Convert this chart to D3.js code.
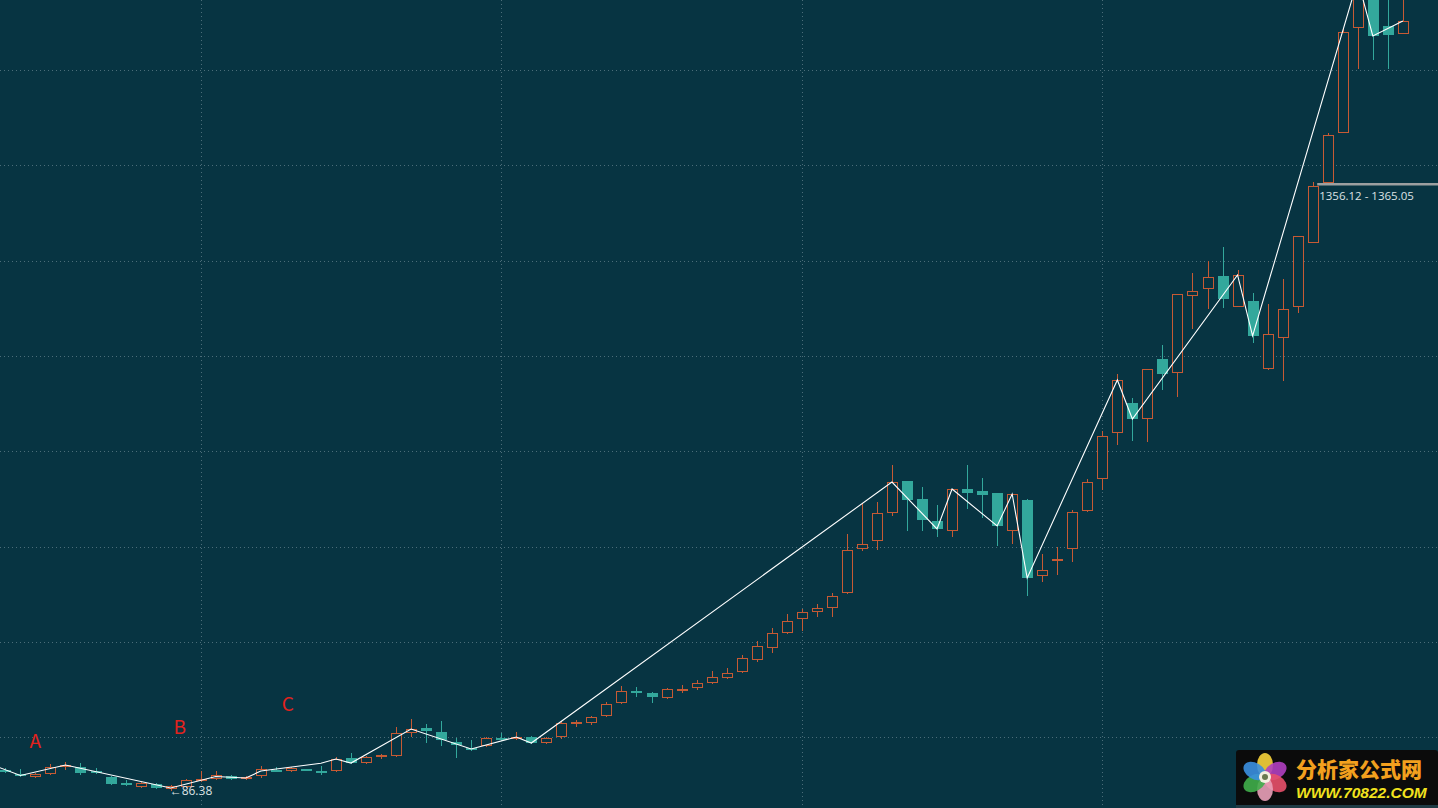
<!DOCTYPE html>
<html><head><meta charset="utf-8">
<script src="https://cdn.jsdelivr.net/npm/d3@7"></script>
<style>
html,body{margin:0;padding:0;background:#073442;overflow:hidden;}
svg{display:block;}
</style></head>
<body>
<svg id="chart" width="1438" height="808"></svg>
<script>
// ---- data ----
const opens  = [131.3,122.9,116.6,122.9,137.6,137.6,130.2,116.6,105.1,95.7,102.0,91.5,95.7,108.3,112.5,118.7,112.5,118.7,132.4,129.2,133.4,130.2,129.2,156.5,146.0,158.6,160.7,209.0,219.5,211.1,190.1,177.5,181.7,199.5,196.4,200.6,188.0,200.6,229.9,229.9,244.6,271.9,296.1,292.9,282.4,300.2,303.4,313.9,324.4,337.0,362.2,387.3,418.8,448.2,462.8,471.2,502.6,595.0,611.8,670.5,737.7,699.9,653.7,632.8,720.9,716.7,712.5,632.8,697.8,538.4,573.0,595.0,674.7,741.9,838.3,901.3,867.7,993.6,964.3,1125.8,1140.5,1167.9,1102.7,1115.3,972.7,1037.7,1102.7,1237.4,1362.9,1467.8,1688.1,1778.3,1692.3,1675.5];
const highs  = [135.5,133.4,125.0,143.9,148.1,146.0,135.5,118.7,110.4,106.2,104.1,99.9,112.5,129.2,129.2,120.8,118.7,139.7,137.6,137.6,133.4,139.7,158.6,167.0,160.7,164.9,221.6,238.3,227.8,234.1,198.5,194.3,200.6,209.0,211.1,202.7,200.6,234.1,236.2,244.6,274.0,307.6,305.5,295.0,303.4,309.7,320.2,339.1,345.4,372.6,402.0,429.3,458.6,469.1,479.6,502.6,626.5,691.5,693.6,771.3,737.7,725.1,687.3,720.9,771.3,744.0,712.5,710.4,699.9,584.5,599.2,676.8,741.9,842.6,962.2,911.8,972.7,1023.0,1130.0,1174.2,1199.4,1229.0,1180.5,1132.1,1109.0,1161.5,1251.7,1365.05,1467.8,1688.1,1809.7,1788.8,1767.8,1767.8];
const lows   = [125.0,116.6,114.6,120.8,131.3,120.8,122.9,99.9,97.8,93.6,91.5,86.38,93.6,106.2,110.4,110.4,110.4,114.6,127.1,127.1,131.3,120.8,127.1,143.9,143.9,154.4,158.6,200.6,188.0,181.7,156.5,171.2,179.6,192.2,194.3,185.9,185.9,196.4,221.6,225.8,242.5,269.8,284.5,271.9,280.3,292.9,299.2,311.8,322.3,334.9,358.0,376.8,416.7,423.0,452.4,452.4,500.5,590.8,592.9,664.2,632.8,632.8,620.2,620.2,678.9,660.0,601.3,605.5,496.4,525.8,540.5,567.8,672.6,718.8,813.3,821.6,819.5,928.6,913.9,1056.6,1098.5,1100.6,1102.7,1027.2,970.6,947.5,1090.1,1237.4,1362.9,1467.8,1602.0,1620.9,1602.0,1675.5];
const closes = [129.2,119.8,122.9,137.6,141.8,125.0,128.1,102.0,103.0,104.1,93.6,97.8,110.4,112.5,120.8,112.5,116.6,133.4,130.2,135.5,131.3,128.1,154.4,146.0,158.6,162.8,209.0,217.4,213.2,194.3,183.8,175.4,198.5,197.4,200.6,188.0,198.5,229.9,232.0,242.5,269.8,297.1,294.0,284.5,301.3,302.3,313.9,326.5,334.9,366.3,391.5,418.8,443.9,462.8,471.2,496.4,592.9,605.5,670.5,735.6,697.8,655.8,637.0,720.9,712.5,708.3,643.3,710.4,534.2,551.0,575.1,672.6,735.6,832.1,949.6,867.7,972.7,962.2,1130.0,1136.3,1165.8,1119.5,1170.0,1041.9,1046.1,1098.5,1251.7,1356.12,1463.5,1679.7,1788.8,1671.3,1673.4,1702.7];

// zigzag turning points (bar index, price)
const zigIdx   = [-1,1,4,11,14,16,17,21,22,23,27,31,34,35,59,62,63,66,67,68,74,75,82,83,90,91,93];
const zigPrice = [143.9,119.8,141.8,93.6,117.6,114.6,129.2,145.4,154.4,146.0,217.4,175.4,200.6,188.0,735.6,637.0,720.9,643.3,710.4,534.2,949.6,867.7,1170.0,1041.9,1788.8,1671.3,1702.7];

const gridPrices = [200,400,600,800,1000,1200,1400,1600];
const gridBars   = [13,33,53,73];

const waveLabels = ["A","B","C"];
const waveIdx    = [2,11.6,18.8];
const wavePrice  = [177.6,206.9,255.2];

const lowMark   = {idx:11, price:86.38, text:"86.38"};
const rangeMark = {idx:87.3, lo:1356.12, hi:1365.05};

// ---- chart ----
const W = 1438, H = 808;
const BG = "#073442";
const svg = d3.select("#chart");
const x = d3.scaleLinear().domain([0, 93]).range([5.35, 5.35 + 93*15.027]);
const y = d3.scaleLinear().domain([51.67, 1746.8]).range([H, 0]);

const UP = "#c65a34", DOWN = "#33a89c", GRID = "#4b6d79";

svg.append("rect").attr("width", W).attr("height", H).attr("fill", BG);

// grid
const g = svg.append("g").attr("shape-rendering", "crispEdges");
g.selectAll("line.h").data(gridPrices).join("line")
  .attr("x1", 0).attr("x2", W)
  .attr("y1", d => Math.round(y(d)) + 0.5).attr("y2", d => Math.round(y(d)) + 0.5)
  .attr("stroke", GRID).attr("stroke-width", 1).attr("stroke-dasharray", "1,3");
g.selectAll("line.v").data(gridBars).join("line")
  .attr("y1", 0).attr("y2", H)
  .attr("x1", d => Math.round(x(d)) + 0.5).attr("x2", d => Math.round(x(d)) + 0.5)
  .attr("stroke", GRID).attr("stroke-width", 1).attr("stroke-dasharray", "1,3");

// candles
const bars = opens.map((o, i) => ({i, o, h: highs[i], l: lows[i], c: closes[i]}));
const cg = svg.append("g").attr("shape-rendering", "crispEdges");
const cand = cg.selectAll("g").data(bars).join("g");
cand.each(function(d) {
  const s = d3.select(this);
  const cx = Math.round(x(d.i)) + 0.5;
  const up = d.c >= d.o;
  const col = up ? UP : DOWN;
  const top = Math.round(y(Math.max(d.o, d.c)));
  const bot = Math.round(y(Math.min(d.o, d.c)));
  const bh = Math.max(1, bot - top);
  s.append("line").attr("x1", cx).attr("x2", cx)
    .attr("y1", y(d.h)).attr("y2", top).attr("stroke", col);
  s.append("line").attr("x1", cx).attr("x2", cx)
    .attr("y1", bot).attr("y2", y(d.l)).attr("stroke", col);
  if (up) {
    if (bh <= 2) {
      s.append("rect").attr("x", cx - 5.5).attr("y", top).attr("width", 11).attr("height", Math.max(2, bh)).attr("fill", col);
    } else {
      s.append("rect").attr("x", cx - 5).attr("y", top + 0.5).attr("width", 10).attr("height", bh - 1)
        .attr("fill", BG).attr("stroke", col).attr("stroke-width", 1);
    }
  } else {
    s.append("rect").attr("x", cx - 5.5).attr("y", top).attr("width", 11).attr("height", Math.max(2, bh)).attr("fill", col);
  }
});

// zigzag
const zz = zigIdx.map((d, k) => [x(d), y(zigPrice[k])]);
svg.append("path").attr("d", d3.line()(zz))
  .attr("fill", "none").attr("stroke", "#ffffff").attr("stroke-width", 1.1);

// wave labels
svg.selectAll("text.wave").data(waveLabels).join("text")
  .attr("x", (d, k) => x(waveIdx[k])).attr("y", (d, k) => y(wavePrice[k]))
  .attr("text-anchor", "middle").attr("fill", "#e3221d")
  .attr("font-family", "'Noto Sans CJK SC','Noto Sans',sans-serif").attr("font-size", 19)
  .text(d => d);

// low marker
svg.append("text").attr("x", x(lowMark.idx) - 1).attr("y", y(lowMark.price) + 4)
  .attr("fill", "#dde2e4").attr("font-family", "'Open Sans','Noto Sans',sans-serif").attr("font-size", 12)
  .text("←" + lowMark.text);

// range marker
const ry = Math.round(y((rangeMark.lo + rangeMark.hi) / 2));
svg.append("rect").attr("x", x(rangeMark.idx)).attr("y", ry - 1).attr("width", W).attr("height", 2.5)
  .attr("fill", "#9c9fa0");
svg.append("text").attr("x", x(rangeMark.idx) + 2).attr("y", ry + 16)
  .attr("fill", "#dde2e4").attr("font-family", "'Open Sans','Noto Sans',sans-serif").attr("font-size", 11.5)
  .text(rangeMark.lo.toFixed(2) + " - " + rangeMark.hi.toFixed(2));

// watermark logo
const lg = svg.append("g").attr("transform", "translate(1236,750)");
lg.append("rect").attr("x", 0).attr("y", 0).attr("width", 202).attr("height", 58).attr("rx", 3).attr("fill", "#0b0b0b");
lg.append("rect").attr("x", 0).attr("y", 55).attr("width", 202).attr("height", 3).attr("fill", "#1f3b45");
const petals = ["#f6d23a","#b03fc0","#e8506a","#e9a0b8","#3fae4a","#3a8fe0"];
const fl = lg.append("g").attr("transform", "translate(29,27)");
fl.selectAll("ellipse").data(petals).join("ellipse")
  .attr("cx", 0).attr("cy", -12).attr("rx", 8).attr("ry", 12)
  .attr("fill", d => d).attr("opacity", 0.9)
  .attr("transform", (d, k) => `rotate(${k * 60})`);
fl.append("circle").attr("r", 6).attr("fill", "#f4f0e0");
fl.append("circle").attr("r", 3).attr("fill", "#6a7a50");
lg.append("text").attr("x", 60).attr("y", 27).attr("fill", "#f2a01e")
  .attr("font-family", "'Noto Sans CJK SC',sans-serif").attr("font-weight", 900).attr("font-size", 21)
  .text("分析家公式网");
lg.append("text").attr("x", 60).attr("y", 48).attr("fill", "#f1e21e")
  .attr("font-family", "'Liberation Sans',Arial,sans-serif").attr("font-weight", 700).attr("font-style", "italic")
  .attr("font-size", 15.5).text("WWW.70822.COM");
</script>
</body></html>
